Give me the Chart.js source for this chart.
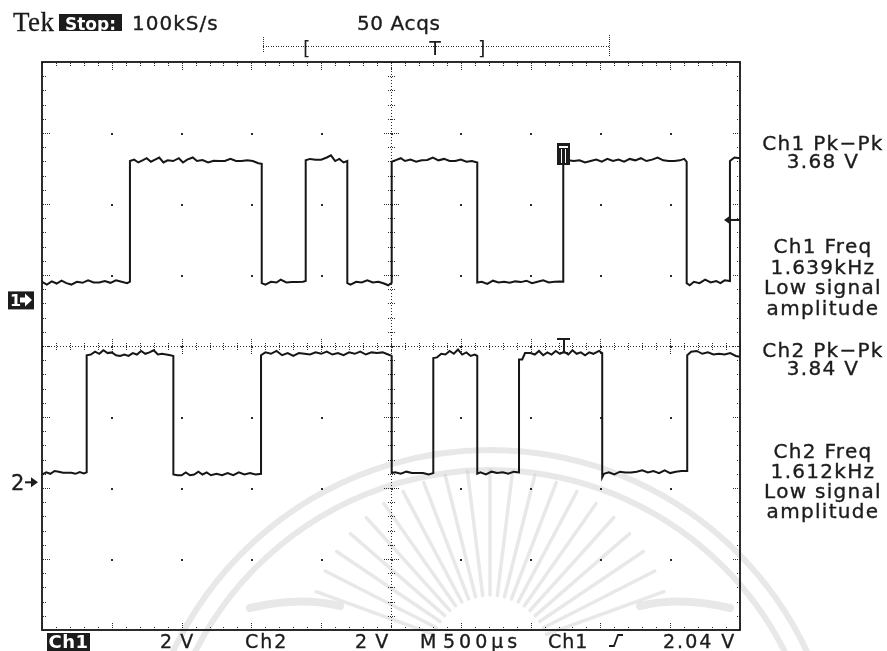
<!DOCTYPE html>
<html>
<head>
<meta charset="utf-8">
<title>Tek scope capture</title>
<script src="https://cdn.jsdelivr.net/npm/chart.js@4/dist/chart.umd.min.js"></script>
<style>
  html, body { margin: 0; padding: 0; background: #ffffff; }
  #wrap { position: relative; width: 887px; height: 651px; overflow: hidden; }
  canvas { display: block; }
</style>
</head>
<body>
<div id="wrap"><canvas id="scope" width="887" height="651"></canvas></div>
<script>
// ---- Acquisition: time in microseconds (0 .. 5000, 500 µs/div), values in volts ----
const ch1TimeUs = [
  0, 35, 70, 105, 140, 175, 210, 250, 290, 330, 370, 410, 450, 490, 530, 570, 610, 630,
  630, 660, 690, 720, 750, 780, 810, 840, 870, 900, 940, 980, 1010, 1040, 1080, 1110, 1150, 1190, 1230, 1270, 1310, 1350, 1390, 1430, 1470, 1510, 1550, 1574,
  1574, 1600, 1640, 1680, 1710, 1750, 1790, 1830, 1870, 1889,
  1889, 1920, 1960, 2000, 2040, 2070, 2100, 2130, 2160, 2187,
  2187, 2210, 2250, 2290, 2330, 2370, 2410, 2450, 2480, 2505,
  2505, 2530, 2570, 2600, 2640, 2680, 2720, 2760, 2800, 2840, 2880, 2920, 2960, 3000, 3040, 3080, 3118,
  3118, 3150, 3190, 3230, 3270, 3310, 3350, 3390, 3430, 3470, 3510, 3550, 3590, 3630, 3670, 3710, 3734,
  3734, 3770, 3810, 3850, 3890, 3930, 3970, 4010, 4050, 4090, 4130, 4170, 4210, 4250, 4290, 4330, 4370, 4410, 4450, 4490, 4530, 4570, 4600, 4618,
  4618, 4640, 4670, 4710, 4750, 4790, 4830, 4860, 4890, 4928,
  4928, 4960, 5000
];
const ch1Volts = [
  0.30, 0.22, 0.31, 0.25, 0.33, 0.26, 0.22, 0.30, 0.27, 0.34, 0.28, 0.28, 0.32, 0.27, 0.34, 0.30, 0.26, 0.30,
  3.70, 3.74, 3.66, 3.72, 3.78, 3.68, 3.74, 3.80, 3.66, 3.72, 3.70, 3.78, 3.66, 3.74, 3.80, 3.70, 3.73, 3.66, 3.71, 3.70, 3.70, 3.76, 3.70, 3.70, 3.72, 3.70, 3.64, 3.62,
  0.26, 0.22, 0.30, 0.28, 0.36, 0.28, 0.29, 0.29, 0.30, 0.32,
  3.72, 3.76, 3.74, 3.74, 3.80, 3.86, 3.70, 3.76, 3.66, 3.70,
  0.26, 0.22, 0.30, 0.28, 0.34, 0.28, 0.30, 0.25, 0.20, 0.27,
  3.68, 3.72, 3.78, 3.70, 3.74, 3.68, 3.72, 3.73, 3.80, 3.72, 3.76, 3.70, 3.70, 3.74, 3.68, 3.70, 3.66,
  0.28, 0.30, 0.24, 0.33, 0.28, 0.30, 0.27, 0.31, 0.29, 0.33, 0.26, 0.30, 0.34, 0.28, 0.30, 0.31, 0.30,
  3.70, 3.72, 3.70, 3.72, 3.66, 3.70, 3.74, 3.68, 3.76, 3.70, 3.74, 3.68, 3.76, 3.72, 3.78, 3.70, 3.74, 3.80, 3.72, 3.70, 3.70, 3.72, 3.76, 3.68,
  0.26, 0.20, 0.30, 0.26, 0.36, 0.28, 0.32, 0.26, 0.34, 0.32,
  3.70, 3.80, 3.78
];

const ch2TimeUs = [
  0, 30, 60, 90, 120, 150, 180, 210, 240, 270, 300, 320,
  320, 350, 380, 410, 440, 470, 500, 530, 560, 590, 620, 650, 680, 710, 740, 770, 800, 830, 860, 890, 920, 941,
  941, 970, 1000, 1030, 1060, 1090, 1120, 1150, 1180, 1210, 1250, 1290, 1330, 1370, 1410, 1450, 1490, 1530, 1569,
  1569, 1600, 1640, 1680, 1720, 1760, 1800, 1840, 1880, 1920, 1960, 2000, 2040, 2080, 2120, 2160, 2200, 2240, 2280, 2320, 2360, 2400, 2440, 2480, 2505,
  2505, 2530, 2570, 2610, 2650, 2690, 2730, 2770, 2803,
  2803, 2830, 2860, 2890, 2920, 2950, 2980, 3010, 3040, 3070, 3100, 3118,
  3118, 3140, 3180, 3220, 3260, 3300, 3340, 3380, 3417,
  3417, 3440, 3460, 3500, 3530, 3560, 3590, 3620, 3650, 3680, 3710, 3740, 3770, 3800, 3830, 3860, 3890, 3920, 3950, 3990, 4013,
  4013, 4025, 4060, 4100, 4140, 4180, 4220, 4260, 4300, 4340, 4380, 4420, 4460, 4500, 4540, 4580, 4622,
  4622, 4650, 4690, 4730, 4770, 4810, 4850, 4890, 4930, 4970, 5000
];
const ch2Volts = [
  0.22, 0.28, 0.24, 0.32, 0.30, 0.27, 0.27, 0.27, 0.24, 0.29, 0.25, 0.28,
  3.58, 3.60, 3.68, 3.62, 3.72, 3.64, 3.66, 3.58, 3.56, 3.60, 3.56, 3.64, 3.60, 3.70, 3.62, 3.66, 3.72, 3.60, 3.62, 3.60, 3.58, 3.56,
  0.22, 0.20, 0.20, 0.28, 0.20, 0.22, 0.30, 0.22, 0.28, 0.20, 0.24, 0.20, 0.26, 0.20, 0.28, 0.22, 0.26, 0.22, 0.24,
  3.58, 3.66, 3.62, 3.70, 3.58, 3.64, 3.56, 3.64, 3.62, 3.60, 3.66, 3.62, 3.68, 3.60, 3.64, 3.58, 3.66, 3.62, 3.68, 3.60, 3.66, 3.64, 3.66, 3.60, 3.56,
  0.26, 0.28, 0.24, 0.30, 0.26, 0.26, 0.26, 0.22, 0.26,
  3.50, 3.52, 3.62, 3.60, 3.70, 3.62, 3.74, 3.60, 3.66, 3.56, 3.60, 3.56,
  0.24, 0.28, 0.22, 0.30, 0.26, 0.28, 0.24, 0.30, 0.28,
  3.46, 3.46, 3.64, 3.64, 3.60, 3.70, 3.58, 3.66, 3.60, 3.70, 3.62, 3.68, 3.60, 3.72, 3.62, 3.66, 3.58, 3.66, 3.62, 3.70, 3.64,
  0.14, 0.24, 0.28, 0.22, 0.30, 0.28, 0.28, 0.30, 0.34, 0.28, 0.32, 0.26, 0.34, 0.26, 0.30, 0.32, 0.32,
  3.58, 3.68, 3.70, 3.62, 3.66, 3.60, 3.62, 3.60, 3.64, 3.56, 3.54
];

// ---- Front-panel settings ----
const voltsPerDiv = [2, 2];          // Ch1, Ch2
const groundDiv = [0.755, -1.92];    // channel ground positions, in divisions from centre
const triggerLevelV = 2.04;          // Ch1 rising edge
const triggerTimeUs = 3734;
const timePerDivUs = 500;
const horizDivs = 10;
const vertDivs = 8;

// ---- Readouts ----
const headerTexts = ['Tek', 'Stop:', '100kS/s', '50 Acqs'];
const measurementLines = [
  ['Ch1 Pk\u2212Pk', '3.68 V'],
  ['Ch1 Freq', '1.639kHz', 'Low signal', 'amplitude'],
  ['Ch2 Pk\u2212Pk', '3.84 V'],
  ['Ch2 Freq', '1.612kHz', 'Low signal', 'amplitude']
];
const footerTexts = ['Ch1', '2 V', 'Ch2', '2 V', 'M', '500\u00b5s', 'Ch1', '2.04 V'];

const toDiv = (v, ch) => v / voltsPerDiv[ch] + groundDiv[ch];
const traceData = (times, volts, ch) => times.map((t, i) => ({ x: t, y: toDiv(volts[i], ch) }));

const SANS = '"DejaVu Sans", Verdana, sans-serif';
const INK = '#1c1c1c';

function text(ctx, str, x, y, font, align, color, spacing, heavy) {
  ctx.save();
  ctx.font = font;
  ctx.textAlign = align || 'left';
  ctx.textBaseline = 'alphabetic';
  ctx.fillStyle = color || INK;
  if ('letterSpacing' in ctx) ctx.letterSpacing = (spacing || 0) + 'px';
  ctx.fillText(str, x, y);
  if (heavy) {
    ctx.strokeStyle = color || INK;
    ctx.lineWidth = heavy;
    ctx.strokeText(str, x, y);
  }
  ctx.restore();
}

// Faint university seal printed behind the screen capture
const seal = {
  id: 'seal',
  beforeDraw(chart) {
    const ctx = chart.ctx;
    ctx.save();
    ctx.strokeStyle = 'rgba(200,200,200,0.42)';
    ctx.lineCap = 'round';
    ctx.lineWidth = 6;
    [330, 350].forEach(r => {
      ctx.beginPath();
      ctx.arc(490, 800, r, Math.PI * 1.03, Math.PI * 1.97);
      ctx.stroke();
    });
    ctx.lineWidth = 3.5;
    for (let deg = 200; deg <= 340; deg += 7) {
      const rad = deg * Math.PI / 180;
      ctx.beginPath();
      ctx.moveTo(490 + Math.cos(rad) * 60, 655 + Math.sin(rad) * 60);
      ctx.lineTo(490 + Math.cos(rad) * 185, 655 + Math.sin(rad) * 185);
      ctx.stroke();
    }
    ctx.lineWidth = 8;
    ctx.beginPath();
    ctx.moveTo(250, 608); ctx.quadraticCurveTo(300, 596, 340, 606);
    ctx.stroke();
    ctx.beginPath();
    ctx.moveTo(640, 606); ctx.quadraticCurveTo(680, 596, 730, 608);
    ctx.stroke();
    ctx.restore();
  }
};

// Graticule: frame, centre crosshair with minor ticks, edge ticks, division dots
const graticule = {
  id: 'graticule',
  beforeDatasetsDraw(chart) {
    const ctx = chart.ctx, a = chart.chartArea;
    const sx = chart.scales.x, sy = chart.scales.y;
    const dot = (x, y, w, h) => ctx.fillRect(Math.round(x), Math.round(y), w || 1, h || 1);
    ctx.save();
    ctx.fillStyle = '#2b2b2b';
    const cx = sx.getPixelForValue(horizDivs * timePerDivUs / 2);
    const cy = sy.getPixelForValue(0);
    for (let x = a.left; x <= a.right; x += 3) dot(x, cy);
    for (let y = a.top; y <= a.bottom; y += 3) dot(cx, y);

    const minorT = timePerDivUs / 5;
    for (let i = 0; i <= horizDivs * 5; i++) {
      const x = sx.getPixelForValue(i * minorT);
      const major = i % 5 === 0;
      const len = major ? 7 : 3;
      for (let d = -len; d <= len; d += 2) dot(x, cy + d);
      for (let d = 1; d <= (major ? 8 : 3); d += 2) { dot(x, a.top + d); dot(x, a.bottom - d); }
    }
    for (let i = 0; i <= vertDivs * 5; i++) {
      const v = -vertDivs / 2 + i / 5;
      const y = sy.getPixelForValue(v);
      const major = i % 5 === 0;
      const len = major ? 7 : 3;
      for (let d = -len; d <= len; d += 2) dot(cx + d, y);
      for (let d = 1; d <= (major ? 8 : 3); d += 2) { dot(a.left + d, y); dot(a.right - d, y); }
    }
    for (let i = 1; i < horizDivs; i++) {
      for (let j = 1; j < vertDivs; j++) {
        dot(sx.getPixelForValue(i * timePerDivUs) - 0.5, sy.getPixelForValue(-vertDivs / 2 + j) - 0.5, 2, 2);
      }
    }
    ctx.strokeStyle = '#161616';
    ctx.lineWidth = 1.8;
    ctx.strokeRect(a.left, a.top, a.right - a.left, a.bottom - a.top);
    ctx.restore();
  }
};

// Readouts, channel markers and trigger indicators
const readouts = {
  id: 'readouts',
  afterDraw(chart) {
    const ctx = chart.ctx, a = chart.chartArea;
    const sx = chart.scales.x, sy = chart.scales.y;
    ctx.save();

    // header
    text(ctx, headerTexts[0], 13, 31, '27px "Liberation Serif", serif', 'left', INK, 0.5, 0.3);
    ctx.fillStyle = INK;
    ctx.fillRect(59, 14, 63, 17);
    text(ctx, headerTexts[1], 90.5, 29.5, 'bold 17px ' + SANS, 'center', '#ffffff', 0);
    text(ctx, headerTexts[2], 132, 30, '20px ' + SANS, 'left', INK, 1, 0.35);
    text(ctx, headerTexts[3], 357, 30, '20px ' + SANS, 'left', INK, 0.6, 0.35);

    // record position bar
    ctx.fillStyle = '#2b2b2b';
    for (let x = 263; x <= 609; x += 2.5) ctx.fillRect(Math.round(x), 46, 1, 1);
    for (let y = 37; y <= 51; y += 2) ctx.fillRect(263, y, 1, 1);
    for (let y = 35; y <= 56; y += 2) ctx.fillRect(609, y, 1, 1);
    text(ctx, '[', 303, 55, '19px ' + SANS, 'left', INK);
    text(ctx, ']', 478, 55, '19px ' + SANS, 'left', INK);
    text(ctx, 'T', 435, 55, '19px ' + SANS, 'center', INK);

    // right-hand measurement readouts
    const rx = 823;
    const blocks = [[150, 18], [253, 20.5], [357, 18], [458, 20]];
    measurementLines.forEach((lines, b) => {
      lines.forEach((s, k) => text(ctx, s, rx, blocks[b][0] + k * blocks[b][1], '20px ' + SANS, 'center', INK, 1.3, 0.35));
    });

    // footer
    ctx.fillStyle = INK;
    ctx.fillRect(47, 633, 43, 18);
    text(ctx, footerTexts[0], 68.5, 648, 'bold 18px ' + SANS, 'center', '#ffffff', 0.5);
    const fy = 648;
    text(ctx, footerTexts[1], 160, fy, '19px ' + SANS, 'left', INK, 1, 0.35);
    text(ctx, footerTexts[2], 245, fy, '19px ' + SANS, 'left', INK, 2, 0.35);
    text(ctx, footerTexts[3], 355, fy, '19px ' + SANS, 'left', INK, 1, 0.35);
    text(ctx, footerTexts[4], 420, fy, '19px ' + SANS, 'left', INK, 0, 0.35);
    text(ctx, footerTexts[5], 443, fy, '19px ' + SANS, 'left', INK, 4, 0.35);
    text(ctx, footerTexts[6], 548, fy, '19px ' + SANS, 'left', INK, 1, 0.35);
    text(ctx, footerTexts[7], 663, fy, '19px ' + SANS, 'left', INK, 2, 0.35);
    // rising-edge slope symbol
    ctx.strokeStyle = INK;
    ctx.lineWidth = 1.8;
    ctx.beginPath();
    ctx.moveTo(609, 646); ctx.lineTo(614, 646); ctx.lineTo(618, 635); ctx.lineTo(623, 635);
    ctx.stroke();

    // Ch1 ground marker
    const g1 = sy.getPixelForValue(groundDiv[0]);
    ctx.fillStyle = INK;
    ctx.fillRect(8, g1 - 1, 26, 18);
    text(ctx, '1', 10, g1 + 14, 'bold 16px ' + SANS, 'left', '#ffffff');
    ctx.fillStyle = '#ffffff';
    ctx.beginPath();
    ctx.moveTo(20, g1 + 5); ctx.lineTo(25, g1 + 5); ctx.lineTo(25, g1 + 1); ctx.lineTo(32, g1 + 7.5);
    ctx.lineTo(25, g1 + 14); ctx.lineTo(25, g1 + 10); ctx.lineTo(20, g1 + 10); ctx.closePath();
    ctx.fill();

    // Ch2 ground marker
    const g2 = sy.getPixelForValue(groundDiv[1]);
    text(ctx, '2', 11, g2 + 8, '21px ' + SANS, 'left', INK, 0, 0.3);
    ctx.fillStyle = INK;
    ctx.fillRect(25, g2 - 1, 7, 2);
    ctx.beginPath();
    ctx.moveTo(31, g2 - 5); ctx.lineTo(38, g2); ctx.lineTo(31, g2 + 5); ctx.closePath();
    ctx.fill();

    // trigger level arrow on Ch1
    const ty = sy.getPixelForValue(toDiv(triggerLevelV, 0));
    ctx.beginPath();
    ctx.moveTo(724, ty); ctx.lineTo(731, ty - 5); ctx.lineTo(731, ty + 5); ctx.closePath();
    ctx.fill();
    ctx.fillRect(730, ty - 1, a.right - 730, 2);

    // trigger point markers
    const tx = Math.round(sx.getPixelForValue(triggerTimeUs));
    const top1 = Math.round(sy.getPixelForValue(toDiv(3.70, 0)));
    ctx.fillStyle = INK;
    ctx.fillRect(tx - 6, top1 - 18, 13, 22);
    ctx.fillStyle = '#ffffff';
    ctx.fillRect(tx - 4, top1 - 15, 9, 2);
    ctx.fillRect(tx - 2, top1 - 12, 1, 14);
    ctx.fillRect(tx + 2, top1 - 12, 1, 14);
    ctx.fillStyle = INK;
    const top2 = Math.round(sy.getPixelForValue(0)) - 8;
    ctx.fillRect(tx - 6, top2, 13, 2);
    ctx.fillRect(tx, top2, 2, 15);
    ctx.fillRect(tx - 3, top2 + 14, 8, 1.5);

    ctx.restore();
  }
};

new Chart(document.getElementById('scope').getContext('2d'), {
  type: 'line',
  data: {
    datasets: [
      { label: 'Ch1', data: traceData(ch1TimeUs, ch1Volts, 0), borderColor: '#161616', borderWidth: 2, pointRadius: 0, tension: 0, fill: false },
      { label: 'Ch2', data: traceData(ch2TimeUs, ch2Volts, 1), borderColor: '#161616', borderWidth: 2, pointRadius: 0, tension: 0, fill: false }
    ]
  },
  options: {
    responsive: false,
    animation: false,
    devicePixelRatio: 1,
    layout: { padding: { left: 42, right: 147, top: 62, bottom: 21 } },
    scales: {
      x: { type: 'linear', min: 0, max: horizDivs * timePerDivUs, display: false },
      y: { type: 'linear', min: -vertDivs / 2, max: vertDivs / 2, display: false }
    },
    plugins: { legend: { display: false }, tooltip: { enabled: false } }
  },
  plugins: [seal, graticule, readouts]
});
</script>
</body>
</html>
